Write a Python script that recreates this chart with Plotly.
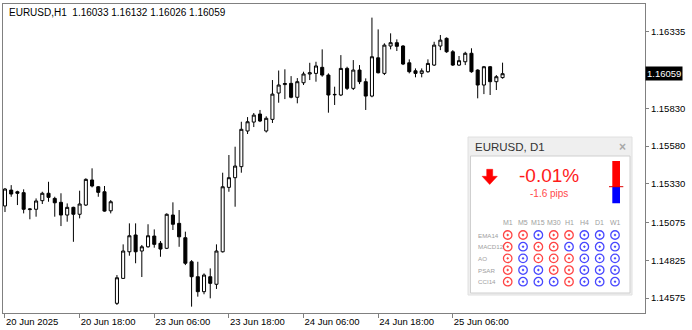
import plotly.graph_objects as go

# ---------------- data ----------------
symbol = "EURUSD"
timeframe = "H1"

opens = [1.15184, 1.15289, 1.15278, 1.15272, 1.15160, 1.15162, 1.15219, 1.15268, 1.15234, 1.15208,
         1.15124, 1.15175, 1.15129, 1.15190, 1.15356, 1.15311, 1.15278, 1.15152, 1.14540, 1.14705,
         1.14881, 1.14992, 1.14886, 1.14914, 1.14985, 1.14937, 1.14904, 1.15124, 1.15069, 1.14974,
         1.14815, 1.14716, 1.14617, 1.14716, 1.14666, 1.14881, 1.15307, 1.15371, 1.15444, 1.15680,
         1.15739, 1.15792, 1.15680, 1.15757, 1.15931, 1.15987, 1.15995, 1.15903, 1.15999, 1.16057,
         1.16061, 1.16101, 1.16050, 1.15922, 1.15918, 1.16094, 1.15962, 1.16083, 1.16006, 1.15911,
         1.16164, 1.16061, 1.16242, 1.16264, 1.16242, 1.16131, 1.16078, 1.16061, 1.16072, 1.16116,
         1.16242, 1.16293, 1.16204, 1.16116, 1.16138, 1.16194, 1.16083, 1.15984, 1.16105, 1.16006,
         1.16033]
highs = [1.15303, 1.15322, 1.15285, 1.15294, 1.15168, 1.15234, 1.15278, 1.15344, 1.15245, 1.15268,
         1.15201, 1.15179, 1.15285, 1.15367, 1.15433, 1.15316, 1.15316, 1.15223, 1.14727, 1.14930,
         1.15069, 1.15069, 1.14926, 1.15063, 1.15029, 1.14952, 1.15135, 1.15208, 1.15157, 1.15014,
         1.14826, 1.14815, 1.14738, 1.14771, 1.14930, 1.15404, 1.15521, 1.15576, 1.15741, 1.15772,
         1.15799, 1.15819, 1.15777, 1.16017, 1.16080, 1.16088, 1.16043, 1.16030, 1.16072, 1.16131,
         1.16138, 1.16220, 1.16061, 1.15973, 1.16182, 1.16105, 1.16149, 1.16116, 1.16028, 1.16430,
         1.16352, 1.16260, 1.16326, 1.16286, 1.16248, 1.16154, 1.16094, 1.16094, 1.16154, 1.16270,
         1.16315, 1.16299, 1.16215, 1.16176, 1.16204, 1.16227, 1.16088, 1.16110, 1.16110, 1.16050,
         1.16132]
lows = [1.15144, 1.15245, 1.15190, 1.15135, 1.15096, 1.15113, 1.15197, 1.15212, 1.15113, 1.15051,
        1.15080, 1.14947, 1.15102, 1.15184, 1.15307, 1.15245, 1.15146, 1.15135, 1.14529, 1.14701,
        1.14855, 1.14805, 1.14714, 1.14908, 1.14908, 1.14848, 1.14899, 1.15025, 1.14914, 1.14793,
        1.14518, 1.14584, 1.14600, 1.14573, 1.14635, 1.14876, 1.15278, 1.15179, 1.15404, 1.15660,
        1.15706, 1.15739, 1.15670, 1.15733, 1.15867, 1.15891, 1.15896, 1.15863, 1.15984, 1.16017,
        1.16006, 1.16039, 1.15801, 1.15852, 1.15911, 1.15951, 1.15951, 1.15990, 1.15819, 1.15903,
        1.16061, 1.16050, 1.16220, 1.16209, 1.16116, 1.16061, 1.16035, 1.16035, 1.16065, 1.16110,
        1.16215, 1.16197, 1.16110, 1.16110, 1.16116, 1.16065, 1.15896, 1.15924, 1.15918, 1.15951,
        1.16026]
closes = [1.15296, 1.15263, 1.15268, 1.15162, 1.15164, 1.15217, 1.15268, 1.15241, 1.15205, 1.15124,
          1.15175, 1.15129, 1.15197, 1.15360, 1.15316, 1.15274, 1.15150, 1.15212, 1.14709, 1.14886,
          1.14987, 1.14881, 1.14914, 1.14987, 1.14930, 1.14899, 1.15129, 1.15063, 1.14980, 1.14805,
          1.14716, 1.14617, 1.14727, 1.14672, 1.14886, 1.15311, 1.15371, 1.15448, 1.15691, 1.15741,
          1.15785, 1.15746, 1.15764, 1.15924, 1.15984, 1.15994, 1.15903, 1.16006, 1.16057, 1.16065,
          1.16110, 1.16050, 1.15918, 1.15920, 1.16094, 1.15962, 1.16083, 1.16006, 1.15911, 1.16171,
          1.16065, 1.16248, 1.16264, 1.16240, 1.16123, 1.16072, 1.16061, 1.16078, 1.16127, 1.16248,
          1.16281, 1.16204, 1.16116, 1.16145, 1.16194, 1.16072, 1.15984, 1.16105, 1.16006, 1.16039,
          1.16059]

time_labels = ["20 Jun 2025", "20 Jun 18:00", "23 Jun 06:00", "23 Jun 18:00",
               "24 Jun 06:00", "24 Jun 18:00", "25 Jun 06:00"]
time_label_bars = [0, 12, 24, 36, 48, 60, 72]
price_ticks = [1.14575, 1.14825, 1.15075, 1.15330, 1.15580, 1.15830, 1.16335]

panel_title = "EURUSD, D1"
change_pct = -0.01
change_pips = -1.6
strength_labels = ["bull", "bear"]
strength_values = [39, 61]
timeframes = ["M1", "M5", "M15", "M30", "H1", "H4", "D1", "W1"]
indicators = ["EMA14", "MACD12", "AO", "PSAR", "CCI14"]
# +1 = up (blue), -1 = down (red)
sig_ema14 = [-1, -1, 1, -1, -1, 1, 1, 1]
sig_macd12 = [-1, 1, -1, -1, 1, 1, 1, 1]
sig_ao = [-1, 1, -1, -1, -1, 1, 1, 1]
sig_psar = [-1, 1, 1, -1, -1, 1, 1, 1]
sig_cci14 = [-1, 1, 1, 1, -1, 1, 1, 1]
signals = [sig_ema14, sig_macd12, sig_ao, sig_psar, sig_cci14]

# ---------------- layout helpers ----------------
W, H = 692, 330
L, R, T, B = 3, 645, 4, 313
FONT = "Liberation Sans"


def px(x):
    return (x - L) / (R - L)


def py(y):
    return (B - y) / (B - T)


bars = list(range(len(opens)))

fig = go.Figure()
fig.add_trace(go.Candlestick(
    x=bars, open=opens, high=highs, low=lows, close=closes,
    increasing=dict(line=dict(color="black", width=1), fillcolor="white"),
    decreasing=dict(line=dict(color="black", width=1), fillcolor="black"),
    whiskerwidth=0, showlegend=False, hoverinfo="skip",
))

# indicator dots
dx, dy, dc = [], [], []
for ind, row in zip(indicators, signals):
    for tf, s in zip(timeframes, row):
        dx.append(tf)
        dy.append(ind)
        dc.append("#ff4545" if s < 0 else "#4848ff")
fig.add_trace(go.Scatter(
    x=dx, y=dy, xaxis="x2", yaxis="y2", mode="markers",
    marker=dict(symbol="circle-open-dot", size=8.5, color=dc, line=dict(width=1.3)),
    showlegend=False, hoverinfo="skip",
))

# strength bar
fig.add_trace(go.Bar(x=["s"], y=[strength_values[0]], xaxis="x3", yaxis="y3",
                     marker=dict(color="#0000ff", line=dict(width=0)), showlegend=False, hoverinfo="skip"))
fig.add_trace(go.Bar(x=["s"], y=[strength_values[1]], xaxis="x3", yaxis="y3",
                     marker=dict(color="#ff0000", line=dict(width=0)), showlegend=False, hoverinfo="skip"))

shapes = []
# panel frame
shapes.append(dict(type="rect", xref="paper", yref="paper", x0=px(468), x1=px(632), y0=py(295), y1=py(137),
                   fillcolor="#efefef", line=dict(color="#e0e0e0", width=1), layer="below"))
shapes.append(dict(type="rect", xref="paper", yref="paper", x0=px(470.5), x1=px(630), y0=py(293), y1=py(156),
                   fillcolor="white", line=dict(color="#cfcfcf", width=1), layer="below"))
# arrow
pts = [(486.7, 169.3), (492.7, 169.3), (492.7, 176.3), (497.3, 176.3), (489.7, 184.5),
       (482.1, 176.3), (486.7, 176.3)]
path = "M " + " L ".join(f"{px(a):.5f},{py(b):.5f}" for a, b in pts) + " Z"
shapes.append(dict(type="path", xref="paper", yref="paper", path=path, fillcolor="#ff0000",
                   line=dict(color="#ff0000", width=0.5)))
# strength divider line
shapes.append(dict(type="line", xref="paper", yref="y3", x0=px(609), x1=px(623.3),
                   y0=strength_values[0], y1=strength_values[0], line=dict(color="#e00000", width=1)))

ann = []
last = len(closes) - 1
ann.append(dict(xref="paper", yref="paper", x=px(6.5), y=py(12.5), xanchor="left", yanchor="middle",
                text=f"{symbol},{timeframe}\u00a0 {opens[last]:.5f} {highs[last]:.5f} {lows[last]:.5f} {closes[last]:.5f}",
                showarrow=False, font=dict(family=FONT, size=10, color="black")))
ann.append(dict(xref="paper", yref="y", x=1, y=closes[last], xanchor="left", yanchor="middle",
                text=f"{closes[last]:.5f}", showarrow=False, bgcolor="black", borderpad=1,
                font=dict(family=FONT, size=9.5, color="white")))
ann.append(dict(xref="paper", yref="paper", x=px(472.5), y=py(147), xanchor="left", yanchor="middle",
                text=panel_title, showarrow=False, font=dict(family=FONT, size=11.5, color="#333333")))
ann.append(dict(xref="paper", yref="paper", x=px(622), y=py(147), xanchor="center", yanchor="middle",
                text="<b>×</b>", showarrow=False, font=dict(family=FONT, size=12, color="#a8a8a8")))
ann.append(dict(xref="paper", yref="paper", x=px(549), y=py(175), xanchor="center", yanchor="middle",
                text=f"{change_pct:.2f}%", showarrow=False, font=dict(family=FONT, size=19, color="#ff1a1a")))
ann.append(dict(xref="paper", yref="paper", x=px(549), y=py(193.5), xanchor="center", yanchor="middle",
                text=f"{change_pips:.1f} pips", showarrow=False, font=dict(family=FONT, size=10, color="#ff4a4a")))
for tf in timeframes:
    ann.append(dict(xref="x2", yref="paper", x=tf, y=py(222.5), xanchor="center", yanchor="middle",
                    text=tf, showarrow=False, font=dict(family=FONT, size=7, color="#a0a0a0")))
for ind in indicators:
    ann.append(dict(xref="paper", yref="y2", x=px(475.5), y=ind, xanchor="left", yanchor="middle",
                    text=ind, showarrow=False, font=dict(family=FONT, size=6.2, color="#a0a0a0")))

axis_col = "#808080"
fig.update_layout(
    width=W, height=H,
    margin=dict(l=L, r=W - R, t=T, b=H - B, pad=0),
    paper_bgcolor="white", plot_bgcolor="rgba(0,0,0,0)",
    barmode="stack", bargap=0,
    shapes=shapes, annotations=ann,
    xaxis=dict(range=[-0.32, 102.9], showgrid=False, zeroline=False, showline=True, mirror=True,
               linecolor=axis_col, linewidth=1, ticks="outside", ticklen=4, tickcolor=axis_col,
               tickvals=time_label_bars, ticktext=time_labels, ticklabelposition="outside right",
               tickfont=dict(family=FONT, size=9.5, color="black"), rangeslider=dict(visible=False),
               fixedrange=True),
    yaxis=dict(range=[1.14476, 1.16520], side="right", showgrid=False, zeroline=False, showline=True,
               mirror=True, linecolor=axis_col, linewidth=1, ticks="outside", ticklen=3, tickcolor=axis_col,
               tickvals=price_ticks, ticktext=[f"{v:.5f}" for v in price_ticks],
               tickfont=dict(family=FONT, size=9.5, color="black")),
    xaxis2=dict(domain=[px(476), px(630)], anchor="y2", type="category", categoryorder="array",
                categoryarray=timeframes, range=[-2.068, 7.978], visible=False),
    yaxis2=dict(domain=[py(292), py(215)], anchor="x2", type="category", categoryorder="array",
                categoryarray=indicators, range=[4.882, -1.713], visible=False),
    xaxis3=dict(domain=[px(612.3), px(620)], anchor="y3", type="category", range=[-0.5, 0.5], visible=False),
    yaxis3=dict(domain=[py(203.3), py(160.7)], anchor="x3", range=[0, 100], visible=False),
)

fig.write_html("out.html")
